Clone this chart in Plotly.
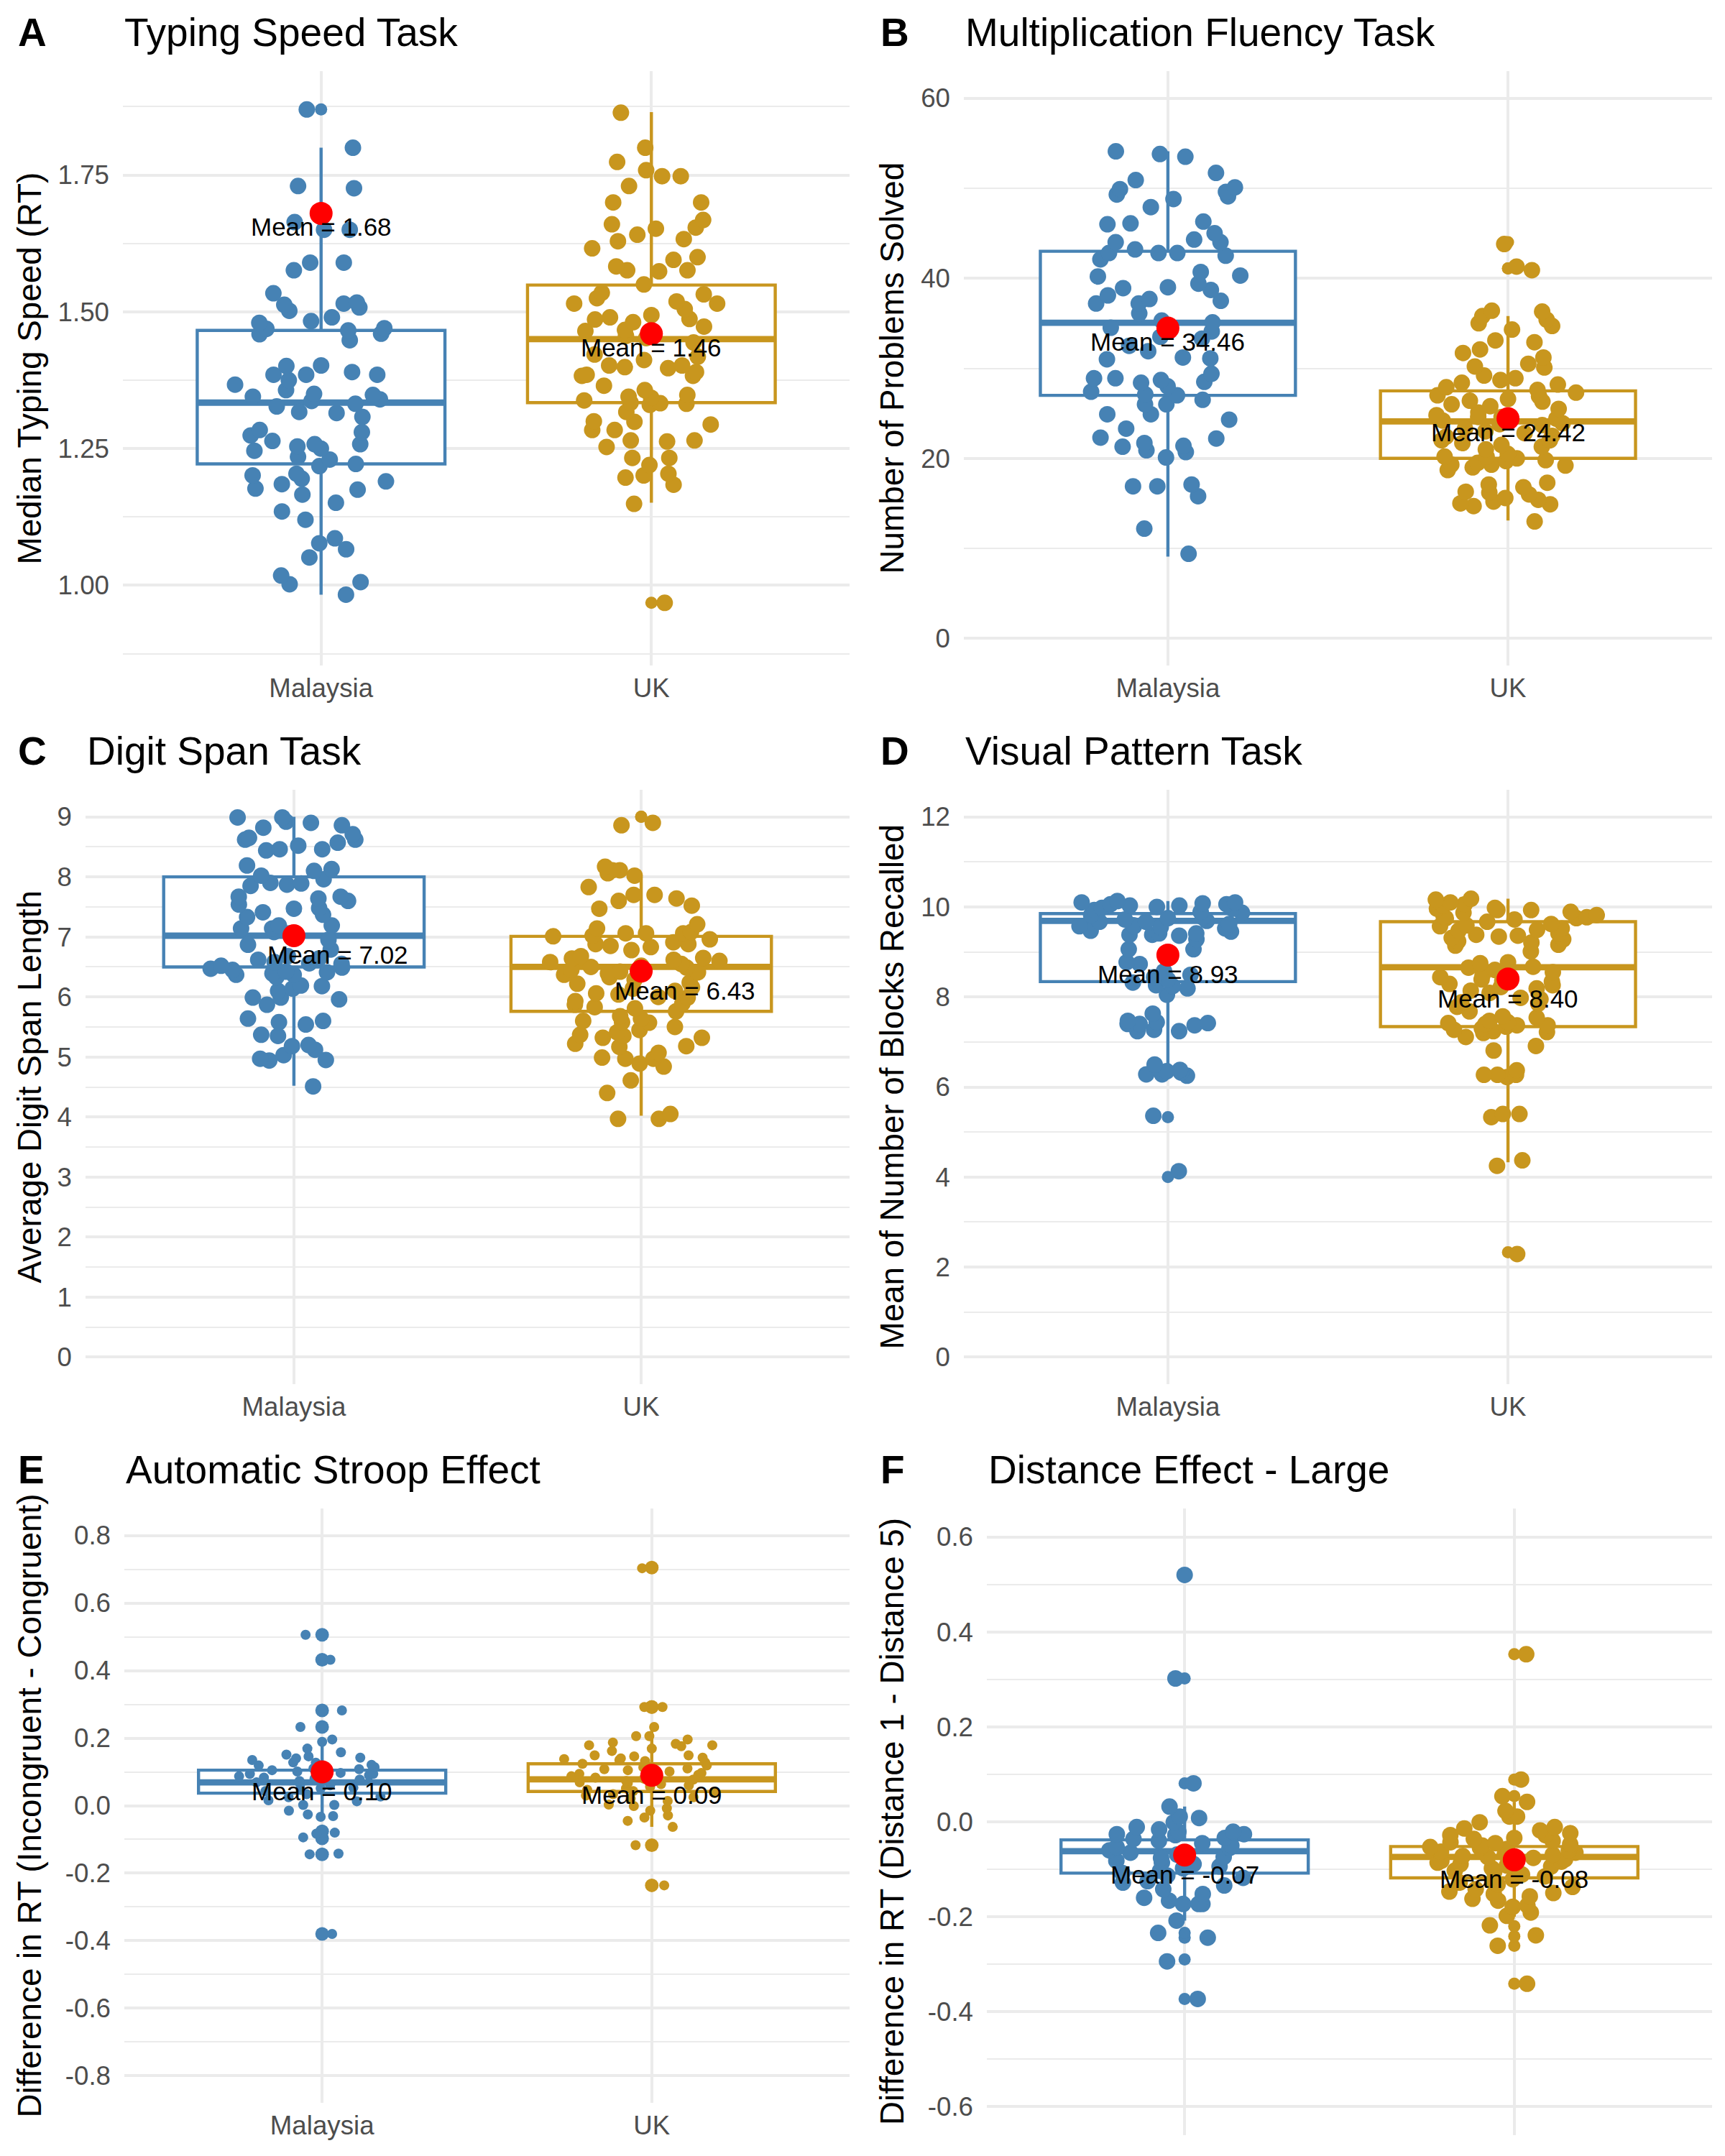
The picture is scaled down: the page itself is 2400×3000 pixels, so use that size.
import plotly.graph_objects as go

W, H = 2400, 3000
FONT = "Liberation Sans, Arial, Helvetica, sans-serif"
BLUE = "#4682B4"
GOLD = "#C8961E"
GRID = "#EBEBEB"
TICK_COLOR = "#4D4D4D"

GROUPS = ["Malaysia", "UK"]

# ---------------- Panel A: Typing Speed Task ----------------
A_MY = [1.87, 1.80, 1.73, 1.726, 1.664, 1.65, 1.65, 1.59, 1.576, 1.59, 1.534, 1.515, 1.508,
        1.513, 1.517, 1.502, 1.49, 1.483, 1.47, 1.48, 1.469, 1.46, 1.459, 1.466, 1.448, 1.402,
        1.401, 1.39, 1.385, 1.385, 1.385, 1.375, 1.367, 1.357, 1.35, 1.348, 1.345, 1.34, 1.337,
        1.332, 1.327, 1.317, 1.315, 1.308, 1.284, 1.28, 1.274, 1.264, 1.258, 1.258, 1.254, 1.25,
        1.246, 1.235, 1.23, 1.222, 1.218, 1.204, 1.201, 1.195, 1.19, 1.185, 1.177, 1.175, 1.166,
        1.151, 1.135, 1.12, 1.086, 1.077, 1.066, 1.051, 1.018, 1.006, 1.002, 0.983]
A_UK = [1.864, 1.80, 1.774, 1.759, 1.748, 1.748, 1.73, 1.70, 1.70, 1.66, 1.668, 1.654, 1.652,
        1.641, 1.633, 1.629, 1.616, 1.60, 1.595, 1.583, 1.576, 1.576, 1.574, 1.55, 1.535, 1.525,
        1.519, 1.532, 1.515, 1.515, 1.505, 1.494, 1.49, 1.486, 1.487, 1.481, 1.473, 1.467, 1.465,
        1.456, 1.452, 1.444, 1.422, 1.418, 1.412, 1.402, 1.402, 1.397, 1.399, 1.39, 1.385, 1.383,
        1.383, 1.365, 1.357, 1.348, 1.345, 1.343, 1.338, 1.334, 1.333, 1.33, 1.332, 1.317, 1.30,
        1.299, 1.294, 1.284, 1.284, 1.265, 1.265, 1.263, 1.253, 1.233, 1.233, 1.22, 1.204, 1.201,
        1.197, 1.184, 1.149, 0.968]
A_MY_OUT = [1.87]
A_UK_OUT = [0.968]
# lower whisker, q1, median, q3, upper whisker
A_MY_BOX = [0.983, 1.222, 1.334, 1.466, 1.80]
A_UK_BOX = [1.151, 1.334, 1.45, 1.549, 1.865]
A_MEANS = [1.68, 1.46]
A_TICKS = [1.00, 1.25, 1.50, 1.75]

# ---------------- Panel B: Multiplication Fluency Task ----------------
B_MY = [53.8, 54.1, 53.5, 51.7, 50.9, 50.1, 49.9, 49.6, 49.3, 49.1, 48.8, 47.9, 46.3, 46.1, 46.0,
        45.0, 44.3, 44.0, 44.0, 43.2, 42.8, 42.8, 42.8, 42.5, 42.1, 40.7, 40.3, 40.2, 39.4, 39.0,
        38.9, 38.7, 38.1, 37.7, 37.5, 37.2, 37.2, 36.1, 35.3, 35.1, 34.5, 34.1, 33.5, 33.3, 32.5,
        31.9, 31.2, 31.1, 31.0, 29.4, 28.9, 28.9, 28.7, 28.5, 28.4, 28.0, 27.4, 27.1, 27.0, 26.5,
        26.0, 26.0, 24.9, 24.9, 24.3, 23.3, 22.3, 22.2, 21.7, 21.4, 21.3, 20.9, 20.7, 20.1, 16.9,
        16.9, 17.1, 15.8, 12.2, 9.4]
B_UK = [43.8, 41.3, 40.9, 36.3, 36.4, 35.8, 35.4, 35.0, 34.7, 34.3, 33.1, 32.9, 32.1, 31.7, 31.2,
        30.5, 30.2, 30.1, 29.2, 28.9, 28.7, 28.4, 28.2, 27.9, 27.6, 27.3, 27.0, 26.9, 26.6, 26.4,
        26.3, 26.0, 25.8, 25.5, 25.1, 24.8, 24.6, 24.4, 24.6, 24.2, 23.9, 23.8, 23.7, 23.3, 23.0,
        22.8, 22.5, 22.4, 22.0, 22.0, 21.7, 21.5, 21.3, 21.0, 20.5, 20.2, 20.2, 20.0, 19.8, 19.7,
        19.5, 19.3, 19.3, 19.2, 19.0, 18.7, 17.3, 17.1, 16.8, 16.3, 16.2, 16.0, 15.6, 15.4, 15.2,
        15.0, 14.9, 14.7, 13.0]
B_MY_OUT = []
B_UK_OUT = [44.0, 41.1, 41.1]
B_MY_BOX = [9.1, 27.0, 35.06, 43.0, 54.1]
B_UK_BOX = [13.1, 20.0, 24.1, 27.5, 35.8]
B_MEANS = [34.46, 24.42]
B_TICKS = [0, 20, 40, 60]

# ---------------- Panel C: Digit Span Task ----------------
C_MY = [8.99, 8.92, 8.90, 8.82, 8.86, 8.99, 8.71, 8.65, 8.62, 8.62, 8.57, 8.52, 8.44, 8.46, 8.46,
        8.19, 8.13, 8.10, 8.02, 7.96, 7.90, 7.89, 7.87, 7.85, 7.67, 7.67, 7.64, 7.60, 7.54, 7.48,
        7.47, 7.41, 7.37, 7.33, 7.19, 7.19, 7.14, 7.14, 7.08, 7.06, 6.95, 6.87, 6.79, 6.68, 6.64,
        6.62, 6.58, 6.56, 6.55, 6.52, 6.49, 6.47, 6.45, 6.42, 6.41, 6.39, 6.37, 6.37, 6.33, 6.19,
        6.18, 6.14, 6.10, 5.99, 5.99, 5.96, 5.87, 5.64, 5.60, 5.58, 5.54, 5.37, 5.35, 5.20, 5.18,
        5.12, 5.03, 4.97, 4.95, 4.94, 4.51]
C_UK = [8.90, 8.86, 8.17, 8.11, 8.11, 8.06, 8.02, 7.83, 7.70, 7.70, 7.64, 7.60, 7.52, 7.47, 7.21,
        7.14, 7.08, 7.06, 7.06, 7.06, 7.02, 7.01, 6.96, 6.91, 6.88, 6.88, 6.85, 6.83, 6.78, 6.68,
        6.65, 6.64, 6.62, 6.60, 6.58, 6.55, 6.52, 6.50, 6.49, 6.45, 6.42, 6.41, 6.39, 6.37, 6.33,
        6.29, 6.24, 6.22, 6.16, 6.14, 6.10, 6.06, 6.04, 6.00, 5.99, 5.93, 5.89, 5.87, 5.83, 5.81,
        5.76, 5.68, 5.64, 5.60, 5.58, 5.57, 5.50, 5.45, 5.41, 5.37, 5.35, 5.32, 5.32, 5.22, 5.18,
        5.17, 5.07, 4.99, 4.97, 4.97, 4.89, 4.84, 4.61, 4.40, 4.05, 3.97, 3.97]
C_MY_OUT = []
C_UK_OUT = [9.0, 9.0]
C_MY_BOX = [4.52, 6.50, 7.02, 8.0, 9.0]
C_UK_BOX = [4.02, 5.76, 6.50, 7.01, 8.0]
C_MEANS = [7.02, 6.43]
C_TICKS = [0, 1, 2, 3, 4, 5, 6, 7, 8, 9]

# ---------------- Panel D: Visual Pattern Task ----------------
D_MY = [10.08, 10.10, 10.03, 10.06, 9.98, 9.96, 10.13, 10.10, 10.06, 10.03, 10.0, 9.93, 9.89,
        9.87, 9.82, 9.77, 9.75, 9.72, 9.69, 9.67, 9.67, 9.62, 9.59, 9.57, 9.57, 9.55, 9.52, 9.47,
        9.45, 9.41, 9.41, 9.38, 9.36, 9.38, 9.28, 9.06, 9.06, 8.77, 8.73, 8.57, 8.49, 8.44, 8.39,
        8.32, 8.26, 8.24, 8.19, 8.05, 7.63, 7.47, 7.44, 7.40, 7.40, 7.42, 7.37, 7.27, 7.24, 7.24,
        6.50, 6.38, 6.35, 6.32, 6.28, 6.28, 6.25, 5.36, 4.13]
D_UK = [10.18, 10.16, 10.10, 10.06, 10.03, 9.98, 9.96, 9.93, 9.93, 9.89, 9.87, 9.82, 9.79, 9.77,
        9.75, 9.75, 9.72, 9.67, 9.62, 9.59, 9.57, 9.52, 9.49, 9.47, 9.41, 9.38, 9.36, 9.34, 9.31,
        9.28, 9.24, 9.21, 9.16, 9.14, 9.01, 8.77, 8.75, 8.67, 8.65, 8.60, 8.55, 8.49, 8.44, 8.39,
        8.36, 8.34, 8.29, 8.26, 8.22, 8.19, 8.14, 8.09, 7.98, 7.95, 7.88, 7.85, 7.78, 7.68, 7.57,
        7.54, 7.47, 7.44, 7.42, 7.40, 7.37, 7.37, 7.34, 7.30, 7.27, 7.24, 7.22, 7.20, 7.11, 6.91,
        6.81, 6.27, 6.27, 6.37, 6.22, 6.27, 5.40, 5.33, 5.40, 4.37, 4.25, 2.29]
D_MY_OUT = [5.33, 4.0]
D_UK_OUT = [2.33]
D_MY_BOX = [6.3, 8.34, 9.69, 9.85, 10.13]
D_UK_BOX = [4.33, 7.34, 8.66, 9.67, 10.18]
D_MEANS = [8.93, 8.40]
D_TICKS = [0, 2, 4, 6, 8, 10, 12]

# ---------------- Panel E: Automatic Stroop Effect ----------------
E_MY = [0.506, 0.432, 0.282, 0.233, 0.196, 0.189, 0.169, 0.158, 0.151, 0.146, 0.142, 0.140,
        0.135, 0.128, 0.127, 0.121, 0.119, 0.114, 0.110, 0.108, 0.105, 0.101, 0.097, 0.094,
        0.094, 0.090, 0.087, 0.083, 0.080, 0.077, 0.073, 0.073, 0.069, 0.064, 0.060, 0.053,
        0.051, 0.047, 0.043, 0.034, 0.027, 0.025, 0.016, 0.013, 0.002, 0.002, -0.015, -0.026,
        -0.031, -0.033, -0.080, -0.083, -0.094, -0.142, -0.144, -0.380]
E_UK = [0.703, 0.292, 0.292, 0.233, 0.206, 0.206, 0.196, 0.187, 0.183, 0.179, 0.179, 0.176,
        0.169, 0.162, 0.149, 0.149, 0.146, 0.142, 0.140, 0.138, 0.135, 0.132, 0.128, 0.124,
        0.119, 0.114, 0.110, 0.108, 0.105, 0.101, 0.097, 0.094, 0.091, 0.087, 0.083, 0.080,
        0.077, 0.073, 0.073, 0.069, 0.067, 0.064, 0.060, 0.056, 0.051, 0.047, 0.043, 0.038,
        0.034, 0.030, 0.025, 0.021, 0.014, 0.003, -0.001, -0.008, -0.015, -0.029, -0.035,
        -0.045, -0.063, -0.117, -0.236]
E_MY_OUT = [0.506, 0.432, 0.282, 0.233, -0.076, -0.097, -0.144, -0.380]
E_UK_OUT = [0.705, 0.292, 0.292, -0.117, -0.236]
E_MY_BOX = [-0.033, 0.037, 0.069, 0.105, 0.196]
E_UK_BOX = [-0.063, 0.042, 0.078, 0.124, 0.230]
E_MEANS = [0.10, 0.09]
E_TICKS = [-0.8, -0.6, -0.4, -0.2, 0.0, 0.2, 0.4, 0.6, 0.8]

# ---------------- Panel F: Distance Effect - Large ----------------
F_MY = [0.520, 0.302, 0.081, 0.032, 0.011, 0.008, -0.001, -0.011, -0.016, -0.021, -0.021,
        -0.026, -0.026, -0.028, -0.034, -0.036, -0.040, -0.045, -0.050, -0.053, -0.055, -0.060,
        -0.065, -0.069, -0.074, -0.076, -0.079, -0.082, -0.086, -0.089, -0.094, -0.098, -0.103,
        -0.108, -0.113, -0.118, -0.125, -0.128, -0.134, -0.142, -0.152, -0.160, -0.166, -0.173,
        -0.173, -0.173, -0.208, -0.234, -0.244, -0.294, -0.373]
F_UK = [0.353, 0.089, 0.054, 0.042, 0.023, 0.011, 0.011, -0.001, -0.011, -0.014, -0.018, -0.024,
        -0.028, -0.028, -0.034, -0.036, -0.040, -0.043, -0.045, -0.047, -0.050, -0.053, -0.055,
        -0.057, -0.060, -0.063, -0.065, -0.067, -0.069, -0.072, -0.074, -0.076, -0.079, -0.082,
        -0.084, -0.086, -0.089, -0.092, -0.094, -0.098, -0.101, -0.103, -0.105, -0.111, -0.115,
        -0.121, -0.125, -0.128, -0.132, -0.137, -0.142, -0.147, -0.150, -0.152, -0.157, -0.162,
        -0.166, -0.176, -0.179, -0.191, -0.198, -0.218, -0.239, -0.261, -0.341]
F_MY_OUT = [0.520, 0.302, 0.081, -0.234, -0.244, -0.290, -0.373]
F_UK_OUT = [0.353, 0.089, 0.054, -0.220, -0.241, -0.261, -0.341]
F_MY_BOX = [-0.208, -0.108, -0.062, -0.038, 0.032]
F_UK_BOX = [-0.200, -0.118, -0.074, -0.052, 0.042]
F_MEANS = [-0.07, -0.08]
F_TICKS = [-0.6, -0.4, -0.2, 0.0, 0.2, 0.4, 0.6]

# ---------------- panel options (layout in pixels) ----------------
PANELS = [
    dict(tag="A", title="Typing Speed Task", ytitle="Median Typing Speed (RT)",
         data=(A_MY, A_UK), outs=(A_MY_OUT, A_UK_OUT), boxes=(A_MY_BOX, A_UK_BOX),
         means=A_MEANS, ticks=A_TICKS, fmt="{:.2f}", yrange=[0.8535, 1.94],
         xpx=(171, 1182), ypx=(99, 926), col=0, jsize=23, osize=17, tdy=19, tdx=0,
         xlabels=True),
    dict(tag="B", title="Multiplication Fluency Task", ytitle="Number of Problems Solved",
         data=(B_MY, B_UK), outs=(B_MY_OUT, B_UK_OUT), boxes=(B_MY_BOX, B_UK_BOX),
         means=B_MEANS, ticks=B_TICKS, fmt="{:.0f}", yrange=[-3, 63],
         xpx=(1341, 2382), ypx=(99, 926), col=1, jsize=23, osize=17, tdy=19, tdx=0,
         xlabels=True),
    dict(tag="C", title="Digit Span Task", ytitle="Average Digit Span Length",
         data=(C_MY, C_UK), outs=(C_MY_OUT, C_UK_OUT), boxes=(C_MY_BOX, C_UK_BOX),
         means=C_MEANS, ticks=C_TICKS, fmt="{:.0f}", yrange=[-0.45, 9.45],
         xpx=(119, 1182), ypx=(1099, 1926), col=0, jsize=23, osize=17, tdy=27, tdx=61,
         xlabels=True),
    dict(tag="D", title="Visual Pattern Task", ytitle="Mean of Number of Blocks Recalled",
         data=(D_MY, D_UK), outs=(D_MY_OUT, D_UK_OUT), boxes=(D_MY_BOX, D_UK_BOX),
         means=D_MEANS, ticks=D_TICKS, fmt="{:.0f}", yrange=[-0.6, 12.6],
         xpx=(1341, 2382), ypx=(1099, 1926), col=1, jsize=23, osize=17, tdy=27, tdx=0,
         xlabels=True),
    dict(tag="E", title="Automatic Stroop Effect",
         ytitle="Difference in RT (Incongruent - Congruent)",
         data=(E_MY, E_UK), outs=(E_MY_OUT, E_UK_OUT), boxes=(E_MY_BOX, E_UK_BOX),
         means=E_MEANS, ticks=E_TICKS, fmt="{:.1f}", yrange=[-0.88, 0.88],
         xpx=(173, 1182), ypx=(2099, 2926), col=0, jsize=14, osize=19, tdy=27, tdx=0,
         xlabels=True),
    # panel F runs to the bottom edge of the figure; its category labels fall outside
    dict(tag="F", title="Distance Effect - Large",
         ytitle="Difference in RT (Distance 1 - Distance 5)",
         data=(F_MY, F_UK), outs=(F_MY_OUT, F_UK_OUT), boxes=(F_MY_BOX, F_UK_BOX),
         means=F_MEANS, ticks=F_TICKS, fmt="{:.1f}", yrange=[-0.66, 0.66],
         xpx=(1373, 2382), ypx=(2099, 2971), col=1, jsize=23, osize=17, tdy=27, tdx=0,
         xlabels=False),
]

COLORS = [BLUE, GOLD]
BOX_W = 0.75
LINE_W = 4.4
JITTER = 0.72
CLEAR = "rgba(0,0,0,0)"


def px_x(p):
    return p / W


def px_y(p):
    return 1 - p / H


def make_shape(**kw):
    try:
        return go.layout.Shape(layer="between", **kw)
    except ValueError:
        return go.layout.Shape(layer="below", **kw)


fig = go.Figure()
shapes = []
annotations = []
layout_axes = {}

for i, p in enumerate(PANELS):
    sfx = "" if i == 0 else str(i + 1)
    xref, yref = "x" + sfx, "y" + sfx

    for j in range(2):
        color = COLORS[j]
        lo, q1, med, q3, hi = p["boxes"][j]
        # white box background and thick median (under the points)
        shapes.append(make_shape(type="rect", xref=xref, yref=yref,
                                 x0=j - BOX_W / 2, x1=j + BOX_W / 2, y0=q1, y1=q3,
                                 fillcolor="white", line=dict(width=0)))
        shapes.append(make_shape(type="line", xref=xref, yref=yref,
                                 x0=j - BOX_W / 2, x1=j + BOX_W / 2, y0=med, y1=med,
                                 line=dict(color=color, width=2 * LINE_W)))
        # box outline + whiskers
        fig.add_trace(go.Box(x=[j], q1=[q1], median=[med], q3=[q3],
                             lowerfence=[lo], upperfence=[hi],
                             width=BOX_W, whiskerwidth=0, boxpoints=False,
                             fillcolor=CLEAR, line=dict(color=color, width=LINE_W),
                             xaxis=xref, yaxis=yref, showlegend=False, hoverinfo="skip"))
        # outliers at the group centre
        outs = p["outs"][j]
        if outs:
            fig.add_trace(go.Box(x=[j] * len(outs), y=outs, boxpoints="all", jitter=0,
                                 pointpos=0, width=BOX_W, fillcolor=CLEAR,
                                 line=dict(color=CLEAR, width=0),
                                 marker=dict(color=color, size=p["osize"]),
                                 xaxis=xref, yaxis=yref, showlegend=False, hoverinfo="skip"))
        # jittered observations
        vals = p["data"][j]
        fig.add_trace(go.Box(x=[j] * len(vals), y=vals, boxpoints="all", jitter=JITTER,
                             pointpos=0, width=BOX_W, fillcolor=CLEAR,
                             line=dict(color=CLEAR, width=0),
                             marker=dict(color=color, size=p["jsize"]),
                             xaxis=xref, yaxis=yref, showlegend=False, hoverinfo="skip"))

    # mean points
    fig.add_trace(go.Scatter(x=[0, 1], y=p["means"], mode="markers",
                             marker=dict(color="red", size=32, line=dict(width=0)),
                             xaxis=xref, yaxis=yref, showlegend=False, hoverinfo="skip"))
    for j, m in enumerate(p["means"]):
        annotations.append(dict(x=j, y=m, xref=xref, yref=yref, showarrow=False,
                                text="Mean = {:.2f}".format(m),
                                font=dict(family=FONT, size=35, color="black"),
                                xanchor="center", yanchor="middle",
                                yshift=-p["tdy"], xshift=p["tdx"]))

    x0, x1 = p["xpx"]
    y0, y1 = p["ypx"]
    col_left = 1200 * p["col"]
    title_y = y0 - 54
    annotations.append(dict(x=px_x(col_left + 23), y=px_y(title_y), xref="paper", yref="paper",
                            showarrow=False, text="<b>" + p["tag"] + "</b>",
                            font=dict(family=FONT, size=55, color="black"),
                            xanchor="left", yanchor="middle"))
    annotations.append(dict(x=px_x(x0), y=px_y(title_y), xref="paper", yref="paper",
                            showarrow=False, text=p["title"],
                            font=dict(family=FONT, size=55, color="black"),
                            xanchor="left", yanchor="middle"))
    annotations.append(dict(x=px_x(col_left + 41), y=px_y((y0 + y1) / 2), xref="paper",
                            yref="paper", showarrow=False, text=p["ytitle"], textangle=-90,
                            font=dict(family=FONT, size=45.8, color="black"),
                            xanchor="center", yanchor="middle"))

    ticks = p["ticks"]
    step = ticks[1] - ticks[0]
    minor_vals = [ticks[0] - step / 2 + k * step for k in range(len(ticks) + 1)]
    layout_axes["xaxis" + sfx] = dict(
        domain=[px_x(x0), px_x(x1)], anchor=yref, range=[-0.6, 1.6], automargin=False,
        tickmode="array", tickvals=[0, 1], ticktext=GROUPS, showticklabels=p["xlabels"],
        showgrid=True, gridcolor=GRID, gridwidth=3.5, zeroline=False, showline=False,
        ticks="", ticklabelstandoff=6,
        tickfont=dict(family=FONT, size=36.7, color=TICK_COLOR), fixedrange=True)
    layout_axes["yaxis" + sfx] = dict(
        domain=[px_y(y1), px_y(y0)], anchor=xref, range=p["yrange"], automargin=False,
        tickmode="array", tickvals=ticks, ticktext=[p["fmt"].format(t) for t in ticks],
        showgrid=True, gridcolor=GRID, gridwidth=3.5, zeroline=False, showline=False,
        ticks="", ticklabelstandoff=18,
        minor=dict(tickmode="array", tickvals=minor_vals, showgrid=True,
                   gridcolor=GRID, gridwidth=2, ticks=""),
        tickfont=dict(family=FONT, size=36.7, color=TICK_COLOR), fixedrange=True)

fig.update_layout(
    width=W, height=H, margin=dict(l=0, r=0, t=0, b=0, pad=0, autoexpand=False),
    paper_bgcolor="white", plot_bgcolor="white",
    boxmode="overlay", hovermode=False, showlegend=False,
    font=dict(family=FONT),
    shapes=shapes, annotations=annotations,
    **layout_axes,
)

fig.write_html("out.html")
